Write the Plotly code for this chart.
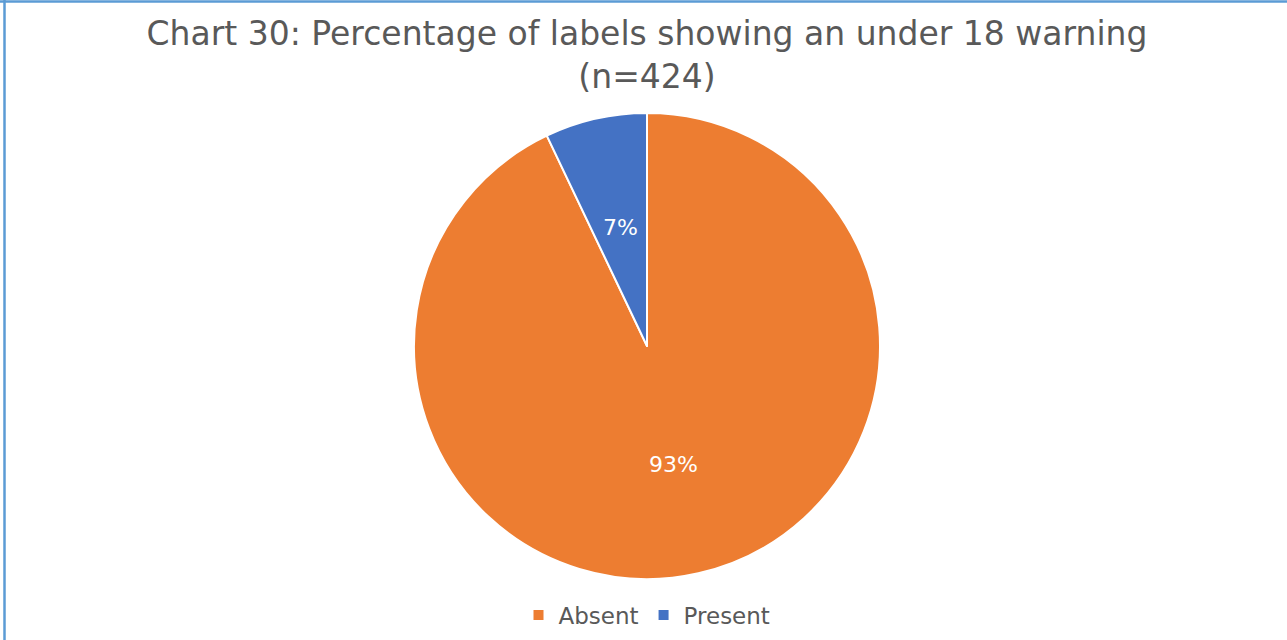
import math
import plotly.graph_objects as go

categories = ["Absent", "Present"]
counts = [394, 30]
colors = ["#ED7D31", "#4472C4"]
title_text = "Chart 30: Percentage of labels showing an under 18 warning<br>(n=424)"

W, H = 1287, 640
cx, cy, r = 647, 346, 233
FONT = "DejaVu Sans"

fig = go.Figure(go.Pie(
    labels=categories,
    values=counts,
    sort=False,
    direction="clockwise",
    rotation=0,
    marker=dict(colors=colors, line=dict(color="white", width=2)),
    textinfo="none",
    hoverinfo="label+percent",
    domain=dict(x=[(cx - r) / W, (cx + r) / W], y=[(H - cy - r) / H, (H - cy + r) / H]),
))

# percentage labels placed at the slice mid-angles, half-way out (derived from data)
total = sum(counts)
annotations = []
start = 0.0
for v in counts:
    frac = v / total
    mid = (start + frac / 2) * 2 * math.pi
    start += frac
    px = cx + 0.52 * r * math.sin(mid)
    py = cy - 0.52 * r * math.cos(mid)
    annotations.append(dict(
        x=px / W, y=1 - py / H, xref="paper", yref="paper",
        text=f"{round(frac * 100)}%", showarrow=False,
        font=dict(color="white", size=22, family=FONT),
        xanchor="center", yanchor="middle",
    ))

fig.update_layout(
    width=W, height=H,
    margin=dict(l=0, r=0, t=0, b=0),
    paper_bgcolor="white",
    plot_bgcolor="white",
    font=dict(family=FONT, color="#595959"),
    title=dict(text=title_text, x=cx / W, xanchor="center", y=1 - 45 / H, yanchor="middle",
               font=dict(size=33, color="#595959", family=FONT)),
    legend=dict(orientation="h", x=cx / W, xanchor="center", y=1 - 615 / H, yanchor="middle",
                font=dict(size=23, color="#595959", family=FONT), itemwidth=30),
    showlegend=True,
    annotations=annotations,
    shapes=[
        dict(type="line", xref="paper", yref="paper", x0=4.5 / W, x1=4.5 / W, y0=0, y1=1,
             line=dict(color="#5B9BD5", width=2.5)),
        dict(type="line", xref="paper", yref="paper", x0=0, x1=1, y0=1 - 1.5 / H, y1=1 - 1.5 / H,
             line=dict(color="#5B9BD5", width=2.5)),
    ],
)

fig.write_html("out.html", config={"displayModeBar": False},
               post_script="document.body.style.margin='0';document.body.style.overflow='hidden';")
